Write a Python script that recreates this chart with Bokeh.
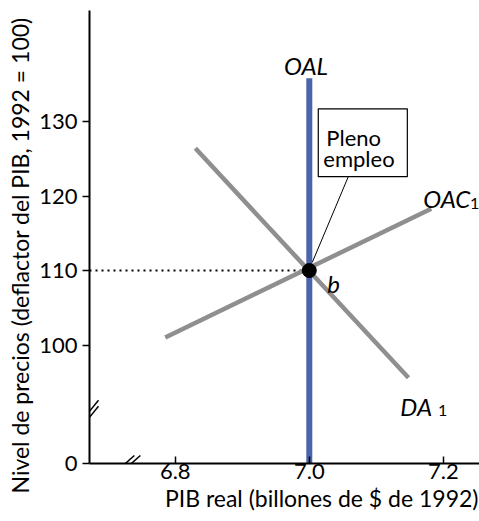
from bokeh.plotting import figure
from bokeh.models import Range1d, FixedTicker, Title, Arrow
from bokeh.core.properties import value
from bokeh.embed import file_html
from bokeh.resources import INLINE

FONT = "Lato"

# axes
x_ticks = [6.8, 7.0, 7.2]
y_ticks = [100, 110, 120, 130]
X0, X1 = 6.672, 7.254      # x range (left end = broken-axis origin)
Y0, Y1 = 84.1, 144.9       # y range (bottom end = broken-axis origin, labelled 0)

# curves
oal_x = [7.0, 7.0]
oal_y = [Y0, 135.8]
da_x = [6.83, 7.148]
da_y = [126.4, 95.6]
oac_x = [6.785, 7.182]
oac_y = [101.0, 118.3]
eq_x = [7.0]
eq_y = [110.0]

# annotation box "Pleno empleo"
box_left, box_right, box_top, box_bottom = 7.0134, 7.1463, 131.7, 122.6
leader_x = [7.0582, 7.0045]
leader_y = [122.6, 111.1]

# axis breaks
BREAK_Y = 90.7
BREAK_X = 6.730

p = figure(width=479, height=521, output_backend="svg", toolbar_location=None,
           x_range=Range1d(X0, X1), y_range=Range1d(Y0, Y1),
           min_border_left=89, min_border_right=0, min_border_top=10, min_border_bottom=58)
p.outline_line_color = None
p.grid.visible = False
p.background_fill_color = "white"

px_x = (X1 - X0) / 390.0
px_y = (Y1 - Y0) / 453.0

# x axis
xa = p.xaxis[0]
xa.ticker = FixedTicker(ticks=x_ticks)
xa.major_label_overrides = {6.8: "6.8", 7.0: "7.0", 7.2: "7.2"}
xa.major_tick_in = 7
xa.major_tick_out = 0
xa.minor_tick_line_color = None
xa.axis_line_width = 2
xa.major_tick_line_width = 1.5
xa.major_label_text_font = FONT
xa.major_label_text_font_size = "22px"
xa.major_label_text_color = "black"
xa.major_label_standoff = 0

# y axis (bottom tick = broken origin, shown as 0)
ya = p.yaxis[0]
ya.ticker = FixedTicker(ticks=[Y0] + y_ticks)
ya.major_label_overrides = {Y0: "0"}
ya.major_tick_in = 0
ya.major_tick_out = 7
ya.minor_tick_line_color = None
ya.axis_line_width = 2
ya.major_tick_line_width = 1.5
ya.major_label_text_font = FONT
ya.major_label_text_font_size = "22px"
ya.major_label_text_color = "black"
ya.major_label_standoff = 5

p.add_layout(Title(text="Nivel de precios (deflactor del PIB, 1992 = 100)", align="left",
                   text_font=FONT, text_font_size="23px", text_font_style="normal",
                   text_color="black", standoff=6, offset=-30), "left")

p.add_layout(Title(text="PIB real (billones de $ de 1992)", align="right",
                   text_font=FONT, text_font_size="23px", text_font_style="normal",
                   text_color="black", standoff=0, offset=1), "below")

# axis break marks
for d in (-3.0, 3.0):
    p.add_layout(Arrow(end=None, start=None,
                       x_start=X0 - 9 * px_x, y_start=BREAK_Y + d * px_y - 11 * px_y,
                       x_end=X0 + 9 * px_x, y_end=BREAK_Y + d * px_y + 11 * px_y,
                       line_color="black", line_width=1.5))
    p.add_layout(Arrow(end=None, start=None,
                       x_start=BREAK_X + d * px_x - 9 * px_x, y_start=Y0 - 8 * px_y,
                       x_end=BREAK_X + d * px_x + 9 * px_x, y_end=Y0 + 8 * px_y,
                       line_color="black", line_width=1.5))

# dotted guide
p.line([X0, eq_x[0]], [eq_y[0], eq_y[0]], line_color="black", line_width=2, line_dash="2 4")

# curves
p.line(oac_x, oac_y, line_color="#8f8f8f", line_width=4.5)
p.line(da_x, da_y, line_color="#8f8f8f", line_width=4.5)
p.line(oal_x, oal_y, line_color="#4a64ad", line_width=6)

# leader line and box
p.line(leader_x, leader_y, line_color="black", line_width=1)
p.quad(left=[box_left], right=[box_right], top=[box_top], bottom=[box_bottom],
       fill_color="white", line_color="black", line_width=1.2)
p.text(x=[7.0254, 7.0209], y=[127.85, 125.0], text=["Pleno", "empleo"],
       text_font=value(FONT), text_font_size="22px", text_baseline="alphabetic",
       text_color="black")

# equilibrium point
p.scatter(eq_x, eq_y, size=14, color="black")

# curve labels
def lab(x, y, t, size="24px", style="italic", align="left"):
    p.text(x=[x], y=[y], text=[t], text_font=value(FONT), text_font_size=size,
           text_font_style=style, text_align=align, text_baseline="alphabetic",
           text_color="black")

lab(6.995, 137.5, "OAL", align="center")
lab(7.170, 119.66, "OAC")
lab(7.240, 119.0, "1", size="16px", style="normal")
lab(7.1358, 91.74, "DA")
lab(7.192, 91.2, "1", size="16px", style="normal")
lab(7.0269, 108.26, "b")

open("out.html", "w").write(file_html(p, INLINE))
